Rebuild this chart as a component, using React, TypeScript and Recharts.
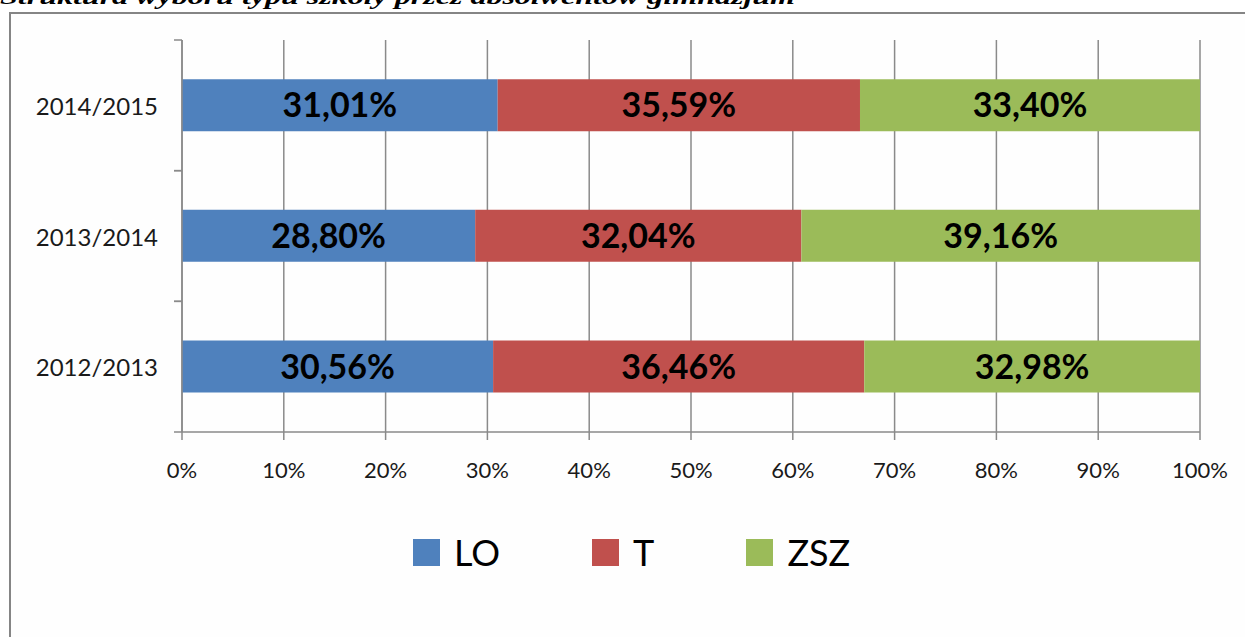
import React from 'react';
import { BarChart, Bar, XAxis, YAxis, CartesianGrid, LabelList, Legend } from 'recharts';

const categories = ['2014/2015', '2013/2014', '2012/2013'];
const seriesLO = [31.01, 28.8, 30.56];
const seriesT = [35.59, 32.04, 36.46];
const seriesZSZ = [33.4, 39.16, 32.98];
const xTicks = [0, 10, 20, 30, 40, 50, 60, 70, 80, 90, 100];
const seriesNames = ['LO', 'T', 'ZSZ'];
const seriesColors = ['#4F81BD', '#C0504D', '#9BBB59'];
const title = 'Struktura wyboru typu szkoły przez absolwentów gimnazjum';

const data = categories.map((c, i) => ({
  name: c,
  LO: seriesLO[i],
  T: seriesT[i],
  ZSZ: seriesZSZ[i],
}));

const FONT = 'Lato, "DejaVu Sans", sans-serif';
const GRID = '#8a8a8a';

const fmt = (v: any) => `${Number(v).toFixed(2).replace('.', ',')}%`;

const YTick = (props: any) => {
  const { x, y, payload } = props;
  const off = payload && payload.offset != null ? payload.offset : 65.33;
  return (
    <g>
      <line x1={x - 8} x2={x} y1={y - off} y2={y - off} stroke={GRID} strokeWidth={1.5} />
      <line x1={x - 8} x2={x} y1={y + off} y2={y + off} stroke={GRID} strokeWidth={1.5} />
      <text x={x - 24} y={y} textAnchor="end" dominantBaseline="central" fontFamily={FONT} fontSize={24} fill="#1a1a1a">
        {payload.value}
      </text>
    </g>
  );
};

const XTick = (props: any) => {
  const { x, y, payload } = props;
  return (
    <text x={x} y={y} dy="0.71em" textAnchor="middle" fontFamily={FONT} fontSize={22} fill="#1a1a1a">
      {`${payload.value}%`}
    </text>
  );
};

const LegendContent = () => (
  <div style={{ display: 'flex', alignItems: 'center', height: 50, paddingLeft: 413, boxSizing: 'border-box' }}>
    {seriesNames.map((n, i) => (
      <div key={n} style={{ display: 'flex', alignItems: 'center', marginRight: 92 }}>
        <div style={{ width: 27, height: 27, background: seriesColors[i], marginRight: 14 }} />
        <span style={{ fontFamily: FONT, fontSize: 36, color: '#000', lineHeight: '50px' }}>{n}</span>
      </div>
    ))}
  </div>
);

export default function App() {
  return (
    <div style={{ position: 'absolute', left: 0, top: 0, width: 1245, height: 637, overflow: 'hidden', background: '#fff' }}>
      <div
        style={{
          position: 'absolute',
          left: 9,
          top: 12,
          width: 1300,
          height: 700,
          borderLeft: '2px solid #858585',
          borderTop: '2px solid #858585',
          background: '#fefefe',
        }}
      />
      <svg style={{ position: 'absolute', left: 0, top: 0 }} width={1245} height={14}>
        <text
          x={0}
          y={4}
          fontFamily='"Liberation Serif", "Times New Roman", serif'
          fontWeight="bold"
          fontStyle="italic"
          fontSize={22}
          textLength={795}
          lengthAdjust="spacingAndGlyphs"
          fill="#000"
        >
          {title}
        </text>
      </svg>
      <div style={{ position: 'absolute', left: 0, top: 0 }}>
        <BarChart
          width={1245}
          height={637}
          data={data}
          layout="vertical"
          margin={{ top: 40, right: 45, bottom: 60, left: 0 }}
          barCategoryGap="30%"
        >
          <CartesianGrid horizontal={false} vertical stroke={GRID} strokeWidth={1.5} />
          <XAxis
            type="number"
            domain={[0, 100]}
            ticks={xTicks}
            interval={0}
            height={95}
            tickSize={8}
            tickMargin={22}
            axisLine={{ stroke: GRID, strokeWidth: 1.5 }}
            tickLine={{ stroke: GRID, strokeWidth: 1.5 }}
            tick={<XTick />}
            allowDataOverflow
          />
          <YAxis
            type="category"
            dataKey="name"
            width={182}
            tickSize={0}
            tickMargin={0}
            tickLine={false}
            axisLine={{ stroke: GRID, strokeWidth: 1.5 }}
            tick={<YTick />}
            interval={0}
          />
          <Legend verticalAlign="bottom" content={<LegendContent />} wrapperStyle={{ height: 50 }} />
          {seriesNames.map((n, i) => (
            <Bar key={n} dataKey={n} stackId="a" fill={seriesColors[i]} isAnimationActive={false}>
              <LabelList
                dataKey={n}
                position="center"
                formatter={fmt}
                fill="#000"
                fontFamily={FONT}
                fontWeight="bold"
                fontSize={34}
              />
            </Bar>
          ))}
        </BarChart>
      </div>
    </div>
  );
}
